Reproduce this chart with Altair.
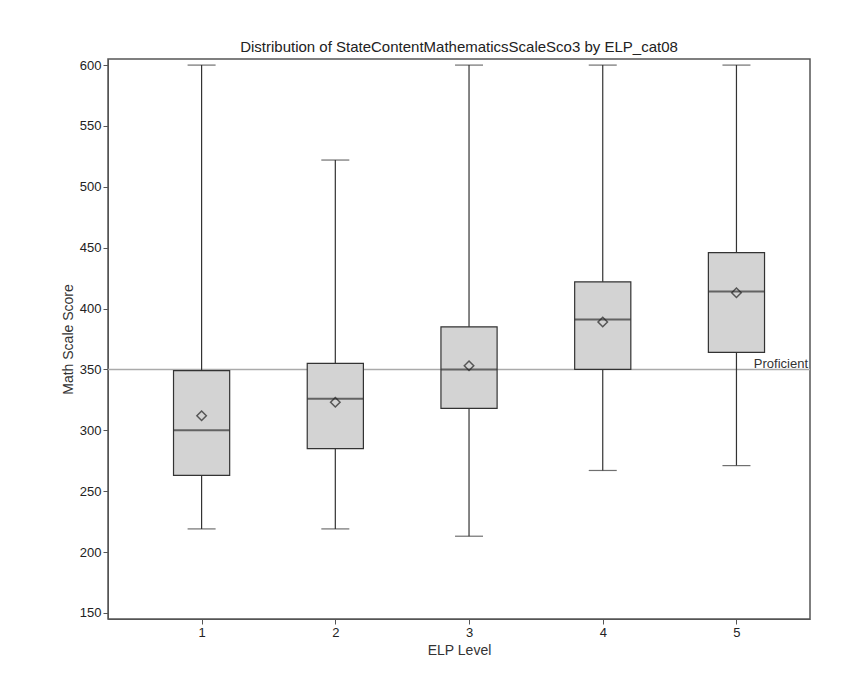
import pandas as pd
import altair as alt

# Box plot statistics
levels = [1, 2, 3, 4, 5]
lows = [219, 219, 213, 267, 271]
q1s = [263, 285, 318, 350, 364]
medians = [300, 326, 350, 391, 414]
q3s = [349, 355, 385, 422, 446]
highs = [600, 522, 600, 600, 600]
means = [312, 323, 353, 389, 413]
proficient = 350

df = pd.DataFrame({'level': levels, 'low': lows, 'q1': q1s, 'median': medians,
                   'q3': q3s, 'high': highs, 'mean': means})
df['left'] = df['level'] - 0.21
df['right'] = df['level'] + 0.21

xs = alt.Scale(domain=[0.3, 5.55])
ys = alt.Scale(domain=[145, 605], nice=False, zero=False)
xax = alt.Axis(values=levels, title='ELP Level', grid=False, format='d')
yax = alt.Axis(values=list(range(150, 601, 50)), title='Math Scale Score', grid=False)

def X(f):
    return alt.X(f, scale=xs, axis=xax)

def Y(f):
    return alt.Y(f, scale=ys, axis=yax)

base = alt.Chart(df)

whisker = base.mark_rule(color='#333', strokeWidth=1.2).encode(
    x=X('level:Q'), y=Y('low:Q'), y2='high:Q')
caps_low = base.mark_tick(color='#333', size=28, thickness=1.2, orient='horizontal').encode(
    x=X('level:Q'), y=Y('low:Q'))
caps_high = base.mark_tick(color='#333', size=28, thickness=1.2, orient='horizontal').encode(
    x=X('level:Q'), y=Y('high:Q'))
box = base.mark_rect(fill='#d3d3d3', stroke='#333', strokeWidth=1.2).encode(
    x=X('left:Q'), x2='right:Q', y=Y('q1:Q'), y2='q3:Q')
med = base.mark_tick(color='#333', size=56, thickness=2, orient='horizontal').encode(
    x=X('level:Q'), y=Y('median:Q'))
mean_pt = base.mark_point(shape='diamond', color='#222', size=90, strokeWidth=1.5, filled=False).encode(
    x=X('level:Q'), y=Y('mean:Q'))

ref = alt.Chart(pd.DataFrame({'y': [proficient]})).mark_rule(color='#aaa', strokeWidth=1.5).encode(
    y=Y('y:Q'))
ref_label = alt.Chart(pd.DataFrame({'y': [proficient], 'x': [5.55], 't': ['Proficient']})).mark_text(
    align='right', baseline='bottom', dx=-2, dy=2, fontSize=13, font='Liberation Sans', color='#333'
).encode(x=X('x:Q'), y=Y('y:Q'), text='t:N')

chart = alt.layer(ref, whisker, caps_low, caps_high, box, med, mean_pt, ref_label).properties(
    width=702, height=560,
    padding={'left': 53, 'top': 32, 'right': 5, 'bottom': 5},
    title=alt.Title('Distribution of StateContentMathematicsScaleSco3 by ELP_cat08',
                    fontSize=15, fontWeight='normal', font='Liberation Sans', color='#222'),
    background='white'
).configure_view(stroke='#555', strokeWidth=1.5).configure_axis(
    labelFont='Liberation Sans', titleFont='Liberation Sans', labelFontSize=13, titleFontSize=14,
    titleFontWeight='normal', labelColor='#222', titleColor='#333', domainColor='#555', tickColor='#555'
)

chart.save("out.html", embed_options={"renderer": "svg", "actions": False})
